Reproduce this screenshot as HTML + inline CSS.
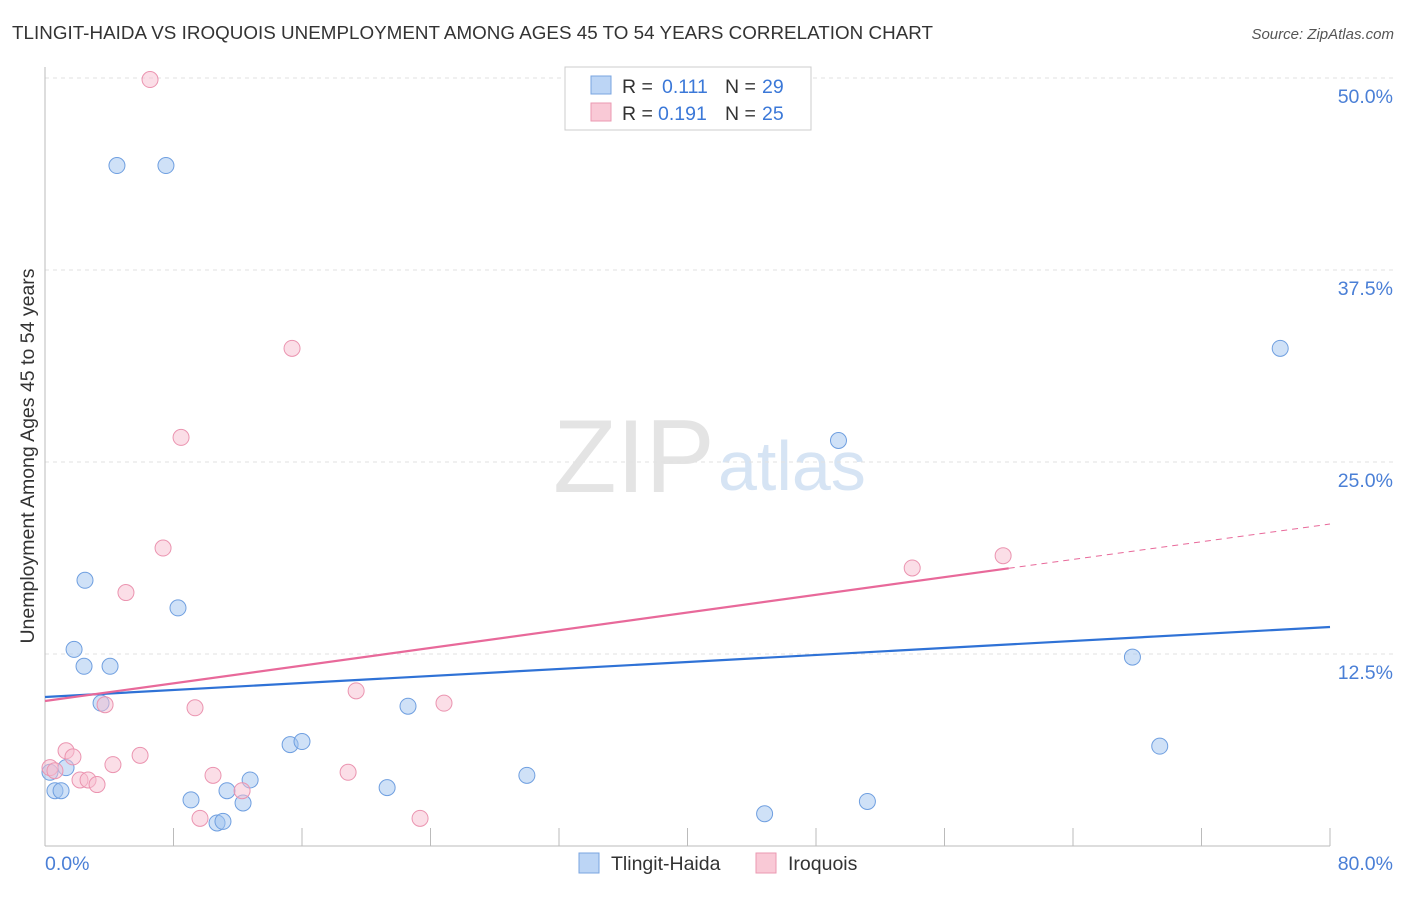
<!DOCTYPE html>
<html><head><meta charset="utf-8"><style>
body{margin:0;background:#fff;font-family:"Liberation Sans",sans-serif}
svg text{font-family:"Liberation Sans",sans-serif}
</style></head><body>
<svg id="c" width="1406" height="892">
<text x="12" y="39" font-size="18.8" fill="#333" textLength="921">TLINGIT-HAIDA VS IROQUOIS UNEMPLOYMENT AMONG AGES 45 TO 54 YEARS CORRELATION CHART</text>
<text x="1394" y="39" font-size="15" fill="#555" font-style="italic" text-anchor="end">Source: ZipAtlas.com</text>
<text x="553" y="492" font-size="104" fill="#e4e4e4" font-family="Liberation Serif">ZIP</text>
<text x="718" y="490" font-size="70" fill="#d6e4f4">atlas</text>
<g id="grid"></g><g id="axes"></g><g id="lines"></g><g id="pts"></g>
<text transform="translate(34,456) rotate(-90)" font-size="19.5" fill="#333" text-anchor="middle">Unemployment Among Ages 45 to 54 years</text>
<text x="45" y="870" font-size="19.5" fill="#4a7fd6">0.0%</text>
<text x="1393" y="870" font-size="19.5" fill="#4a7fd6" text-anchor="end">80.0%</text>
<g>
<rect x="565" y="67" width="246" height="63" fill="#fff" stroke="#ccc"/>
<rect x="591" y="76" width="20" height="18" fill="#bcd5f5" stroke="#7aa5e0"/>
<text x="622" y="93" font-size="19.5" fill="#333">R =</text>
<text x="662" y="93" font-size="19.5" fill="#3b78d8">0.111</text>
<text x="725" y="93" font-size="19.5" fill="#333">N =</text>
<text x="762" y="93" font-size="19.5" fill="#3b78d8">29</text>
<rect x="591" y="103" width="20" height="18" fill="#f9c9d6" stroke="#eb99b2"/>
<text x="622" y="120" font-size="19.5" fill="#333">R =</text>
<text x="658" y="120" font-size="19.5" fill="#3b78d8">0.191</text>
<text x="725" y="120" font-size="19.5" fill="#333">N =</text>
<text x="762" y="120" font-size="19.5" fill="#3b78d8">25</text>
</g>
<g>
<rect x="579" y="853" width="20" height="20" fill="#bcd5f5" stroke="#7aa5e0"/>
<text x="611" y="870" font-size="19.5" fill="#333">Tlingit-Haida</text>
<rect x="756" y="853" width="20" height="20" fill="#f9c9d6" stroke="#eb99b2"/>
<text x="788" y="870" font-size="19.5" fill="#333">Iroquois</text>
</g>
</svg>
<script>
const yTicks=[12.5,25,37.5,50];
const yTickLabels=["12.5%","25.0%","37.5%","50.0%"];
const xTicks=[0,8,16,24,32,40,48,56,64,72,80];
const blueX=[4.48,7.53,2.49,8.28,1.81,2.43,4.05,3.49,1.31,0.62,1.0,9.09,10.71,11.08,11.33,12.77,12.33,15.26,16.0,21.3,22.6,30.0,49.4,44.8,51.2,67.7,69.4,76.9,0.31];
const blueY=[44.3,44.3,17.3,15.5,12.8,11.7,11.7,9.3,5.1,3.6,3.6,3.0,1.5,1.6,3.6,4.3,2.8,6.6,6.8,3.8,9.1,4.6,26.4,2.1,2.9,12.3,6.5,32.4,4.8];
const pinkX=[6.54,15.38,8.47,7.35,5.04,59.65,53.99,3.74,9.34,19.37,24.84,1.31,1.74,5.92,4.23,0.31,0.62,2.18,2.68,3.24,10.46,12.27,9.65,18.87,23.35];
const pinkY=[49.9,32.4,26.6,19.4,16.5,18.9,18.1,9.2,9.0,10.1,9.3,6.2,5.8,5.9,5.3,5.1,4.9,4.3,4.3,4.0,4.6,3.6,1.8,4.8,1.8];
const blueTrend=[9.7,14.26];
const pinkTrend=[9.44,20.96];
const pinkSolidEnd=60;
const NS="http://www.w3.org/2000/svg";
const X=v=>45+v*(1285/80), Y=v=>846-v*15.36;
function mk(p,t,a){const e=document.createElementNS(NS,t);for(const k in a)e.setAttribute(k,a[k]);document.getElementById(p).appendChild(e);return e;}
yTicks.forEach((t,i)=>{
 const g=mk('grid','line',{x1:45,x2:1393,y1:Y(t),y2:Y(t),stroke:'#e2e2e2','stroke-dasharray':'4,4'});
 
 
 const l=mk('grid','text',{x:1393,y:Y(t)+25,'font-size':19.5,fill:'#4a7fd6','text-anchor':'end'});
 l.textContent=yTickLabels[i];
 
 
});
const ya=mk('axes','line',{x1:45,x2:45,y1:67,y2:846,stroke:'#bbb'});


const xa=mk('axes','line',{x1:45,x2:1330,y1:846,y2:846,stroke:'#bbb'});


xTicks.forEach(t=>{const k=mk('axes','line',{x1:X(t),x2:X(t),y1:828,y2:846,stroke:'#bbb'});
 
 });
const ln=(a,b,x0)=>a+(b-a)*x0/80;
let e=mk('lines','line',{x1:X(0),y1:Y(blueTrend[0]),x2:X(80),y2:Y(blueTrend[1]),stroke:'#2f72d6','stroke-width':2.2});


e=mk('lines','line',{x1:X(0),y1:Y(pinkTrend[0]),x2:X(pinkSolidEnd),y2:Y(ln(pinkTrend[0],pinkTrend[1],pinkSolidEnd)),stroke:'#e8699a','stroke-width':2.2});


e=mk('lines','line',{x1:X(pinkSolidEnd),y1:Y(ln(pinkTrend[0],pinkTrend[1],pinkSolidEnd)),x2:X(80),y2:Y(pinkTrend[1]),stroke:'#e8699a','stroke-width':1,'stroke-dasharray':'6,5'});


blueX.forEach((x,i)=>{const c=mk('pts','circle',{cx:X(x),cy:Y(blueY[i]),r:8,fill:'rgba(160,195,240,0.5)',stroke:'#6f9fe0','stroke-width':1});
 
 });
pinkX.forEach((x,i)=>{const c=mk('pts','circle',{cx:X(x),cy:Y(pinkY[i]),r:8,fill:'rgba(248,190,208,0.5)',stroke:'#eb94b0','stroke-width':1});
 
 });
</script>
</body></html>
